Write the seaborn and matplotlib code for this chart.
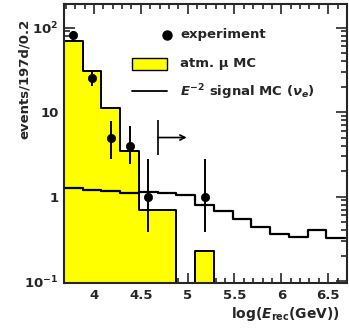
import matplotlib
matplotlib.use("Agg")
import matplotlib.pyplot as plt
from matplotlib.ticker import FixedLocator, MultipleLocator, NullFormatter
from matplotlib.patches import Rectangle
from matplotlib.lines import Line2D
import numpy as np
import seaborn as sns

# binning in log10(E_rec/GeV), 0.2 wide
bin_edges = [3.68, 3.88, 4.08, 4.28, 4.48, 4.68, 4.88, 5.08, 5.28,
             5.48, 5.68, 5.88, 6.08, 6.28, 6.48, 6.68]
atm_mu_mc = [70, 31, 11.3, 3.45, 0.70, 0.70, 0, 0.23, 0, 0, 0, 0, 0, 0, 0]
signal_mc = [1.27, 1.21, 1.16, 1.11, 1.12, 1.11, 1.04, 0.80, 0.68,
             0.54, 0.44, 0.36, 0.33, 0.40, 0.32]

# experiment
exp_x = [3.78, 3.98, 4.18, 4.38, 4.58, 5.18]
exp_y = [81, 25, 5, 4, 1, 1]
exp_lo = [72, 20.3, 2.8, 2.4, 0.38, 0.38]
exp_hi = [90, 29.9, 7.9, 6.8, 2.75, 2.75]

# cut marker
cut_x = 4.68
cut_y = [3.07, 8.0]
arrow_end = 4.99
arrow_y = 5.0

xticks = [4, 4.5, 5, 5.5, 6, 6.5]
xtick_labels = ["4", "4.5", "5", "5.5", "6", "6.5"]
yticks = [0.1, 1, 10, 100]
ytick_labels = [r"$10^{-1}$", "1", "10", r"$10^{2}$"]

sns.set_style("ticks")
plt.rcParams["font.family"] = ["DejaVu Sans"]
plt.rcParams["font.weight"] = "bold"
plt.rcParams["mathtext.fontset"] = "custom"
plt.rcParams["mathtext.rm"] = "DejaVu Sans:bold"
plt.rcParams["mathtext.it"] = "DejaVu Sans:italic:bold"
plt.rcParams["mathtext.bf"] = "DejaVu Sans:bold"
plt.rcParams["mathtext.sf"] = "DejaVu Sans:bold"

centers = (np.array(bin_edges[:-1]) + np.array(bin_edges[1:])) / 2

fig = plt.figure(figsize=(3.49, 3.34), dpi=100)
ax = fig.add_axes([0.1834, 0.1527, 0.8106, 0.8353])
ax.set_yscale("log")

sns.histplot(x=centers, weights=atm_mu_mc, bins=bin_edges, element="step",
             fill=True, color="#ffff00", alpha=1, edgecolor="black",
             linewidth=1.4, ax=ax, zorder=1)
sns.histplot(x=centers, weights=signal_mc, bins=bin_edges, element="step",
             fill=False, color="black", linewidth=1.6, ax=ax, zorder=2)

yerr = [np.array(exp_y) - np.array(exp_lo), np.array(exp_hi) - np.array(exp_y)]
ax.errorbar(exp_x, exp_y, yerr=yerr, fmt="none", ecolor="black",
            elinewidth=1.4, capsize=0, zorder=3)
sns.scatterplot(x=exp_x, y=exp_y, color="black", s=36, edgecolor="black",
                ax=ax, zorder=4)

# cut indicator
ax.vlines(cut_x, cut_y[0], cut_y[1], color="black", linewidth=1.2, zorder=3)
ax.annotate("", xy=(arrow_end, arrow_y), xytext=(cut_x, arrow_y),
            arrowprops=dict(arrowstyle="->", color="black", lw=1.2,
                            mutation_scale=9, shrinkA=0, shrinkB=0))

ax.set_xlim(3.68, 6.70)
ax.set_ylim(0.095, 190)

ax.xaxis.set_major_locator(FixedLocator(xticks))
ax.set_xticklabels(xtick_labels)
ax.xaxis.set_minor_locator(MultipleLocator(0.1))
ax.yaxis.set_major_locator(FixedLocator(yticks))
ax.set_yticklabels(ytick_labels)
ax.yaxis.set_minor_locator(FixedLocator(
    [m * 10.0 ** e for e in range(-1, 3) for m in range(2, 10)]))
ax.yaxis.set_minor_formatter(NullFormatter())

ax.tick_params(which="both", direction="in", top=True, right=True,
               width=1.2, labelsize=9.5)
ax.tick_params(axis="x", which="major", length=7, pad=4)
ax.tick_params(axis="x", which="minor", length=3.5)
ax.tick_params(axis="y", which="major", length=8, pad=4)
ax.tick_params(axis="y", which="minor", length=4)
for lab in ax.get_xticklabels() + ax.get_yticklabels():
    lab.set_fontweight("bold")
for sp in ax.spines.values():
    sp.set_linewidth(1.5)

ax.set_ylabel("events/197d/0.2", fontsize=9.5, fontweight="bold")
ax.yaxis.set_label_coords(-0.118, 0.73)
ax.set_xlabel(r"log($E_{\rm rec}$(GeV))", fontsize=10, fontweight="bold",
              ha="right")
ax.xaxis.set_label_coords(0.975, -0.078)

# legend
tr = ax.transAxes
ax.add_line(Line2D([0.363], [0.889], marker="o", markersize=6.5,
                   color="black", transform=tr))
ax.add_patch(Rectangle((0.239, 0.763), 0.124, 0.043, facecolor="#ffff00",
                       edgecolor="black", linewidth=1.0, transform=tr))
ax.add_line(Line2D([0.239, 0.363], [0.688, 0.688], color="black",
                   linewidth=1.3, transform=tr))
ax.text(0.41, 0.889, "experiment", transform=tr, va="center", fontsize=9.5,
        fontweight="bold")
ax.text(0.41, 0.787, "atm. \u03bc MC", transform=tr, va="center",
        fontsize=9.5, fontweight="bold")
ax.text(0.41, 0.685, r"$E^{-2}$ signal MC ($\nu_e$)", transform=tr,
        va="center", fontsize=9.5, fontweight="bold")

fig.savefig("out.png", dpi=100)
